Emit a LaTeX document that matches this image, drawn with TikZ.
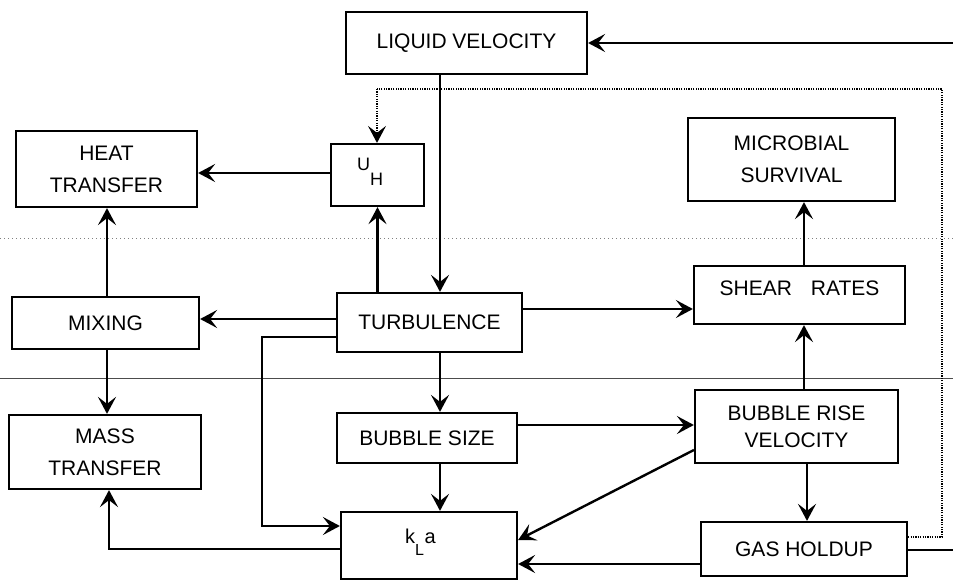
\documentclass[tikz,border=0pt]{standalone}
\usepackage{fontspec}
\setmainfont{Liberation Sans}
\usetikzlibrary{arrows.meta}
\begin{document}
\begin{tikzpicture}[x=1pt,y=-1pt,
 box/.style={draw, line width=2.2pt, inner sep=0pt, align=center, font=\fontsize{21}{32}\selectfont},
 conn/.style={line width=2.4pt},
 tip/.style={-{Stealth[length=17pt,width=18pt,inset=7pt]}},
 arr/.style={conn, tip},
 dots/.style={line width=1.2pt, dash pattern=on 1.2pt off 1.2pt},
 txt/.style={inner sep=0pt}]
\useasboundingbox (0,0) rectangle (953,583);
\fill[white] (0,0) rectangle (953,583);
% scan lines
\coordinate (sl1) at (0,238); \coordinate (sr1) at (953,238);
\draw[gray, line width=0.7pt, dash pattern=on 1pt off 3pt] (sl1) -- (sr1);
\coordinate (sl2) at (0,378); \coordinate (sr2) at (953,378);
\draw[black!70, line width=0.7pt] (sl2) -- (sr2);
% boxes
\node[box, minimum width=241pt, minimum height=62pt] (lv) at (466.5,43) {LIQUID VELOCITY};
\node[box, minimum width=93pt, minimum height=62pt] (uh) at (377.5,175) {};
\node[box, minimum width=181pt, minimum height=76pt] (ht) at (106.5,169) {HEAT\\TRANSFER};
\node[box, minimum width=187pt, minimum height=52pt] (mix) at (105.5,323) {MIXING};
\node[box, minimum width=192pt, minimum height=74pt] (mt) at (105,452) {MASS\\TRANSFER};
\node[box, minimum width=185pt, minimum height=59pt] (tu) at (429.5,322.5) {TURBULENCE};
\node[box, minimum width=180pt, minimum height=50pt] (bs) at (427,438) {BUBBLE SIZE};
\node[box, minimum width=176pt, minimum height=67pt] (kla) at (429,545.5) {};
\node[box, minimum width=207pt, minimum height=83pt] (ms) at (791.5,159.5) {MICROBIAL\\SURVIVAL};
\node[box, minimum width=211pt, minimum height=58pt] (sr) at (799.5,295) {\raisebox{14pt}{SHEAR\hspace{19pt}RATES}};
\node[box, minimum width=203pt, minimum height=73pt, font=\fontsize{21}{27}\selectfont] (br) at (796.5,426.5) {BUBBLE RISE\\VELOCITY};
\node[box, minimum width=206pt, minimum height=54pt] (gh) at (804,549) {GAS HOLDUP};
% labels with subscripts
\node[txt, anchor=base west, font=\fontsize{18}{18}\selectfont] (uhl) at (357,171) {U\raisebox{-15pt}{H}};
\node[txt, anchor=base west, font=\fontsize{20}{20}\selectfont] (klal) at (405,543) {k\raisebox{-12pt}{\fontsize{16}{16}\selectfont L}\kern0.5pt a};
% connectors
\coordinate (rt) at (953,43);
\draw[arr] (rt) -- (lv.east);
\coordinate (c1) at (440,0);
\draw[arr] (lv.south -| c1) -- (tu.north -| c1);
\draw[arr] (tu.north -| uh.south) -- (uh.south);
\coordinate (c2) at (0,173);
\draw[arr] (uh.west |- c2) -- (ht.east |- c2);
\coordinate (c3) at (107,0);
\draw[arr] (mix.north -| c3) -- (ht.south -| c3);
\draw[arr] (mix.south -| c3) -- (mt.north -| c3);
\coordinate (c4) at (0,319);
\draw[arr] (tu.west |- c4) -- (mix.east |- c4);
\coordinate (tkA) at (262,337); \coordinate (tkB) at (262,526);
\draw[arr] (tu.west |- tkA) -- (tkA) -- (tkB) -- (kla.west |- tkB);
\coordinate (kmA) at (109,549);
\draw[arr] (kla.west |- kmA) -- (kmA) -- (mt.south -| kmA);
\draw[arr] (tu.south -| c1) -- (bs.north -| c1);
\draw[arr] (bs.south -| c1) -- (kla.north -| c1);
\coordinate (c5) at (0,425);
\draw[arr] (bs.east |- c5) -- (br.west |- c5);
\coordinate (c6) at (0,450); \coordinate (c7) at (0,540);
\draw[arr] (br.west |- c6) -- (kla.east |- c7);
\coordinate (c8) at (0,564);
\draw[arr] (gh.west |- c8) -- (kla.east |- c8);
\coordinate (c9) at (0,309);
\draw[arr] (tu.east |- c9) -- (sr.west |- c9);
\coordinate (c10) at (804,0);
\draw[arr] (br.north -| c10) -- (sr.south -| c10);
\draw[arr] (sr.north -| c10) -- (ms.south -| c10);
\coordinate (c11) at (807,0);
\draw[arr] (br.south -| c11) -- (gh.north -| c11);
\coordinate (re) at (953,550);
\draw[conn] (gh.east |- re) -- (re);
\coordinate (dA) at (942,537); \coordinate (dB) at (942,89); \coordinate (dC) at (377,89);
\draw[dots] (gh.east |- dA) -- (dA) -- (dB) -- (dC);
\draw[dots, tip] (dC) -- (uh.north -| dC);
\end{tikzpicture}
\end{document}
